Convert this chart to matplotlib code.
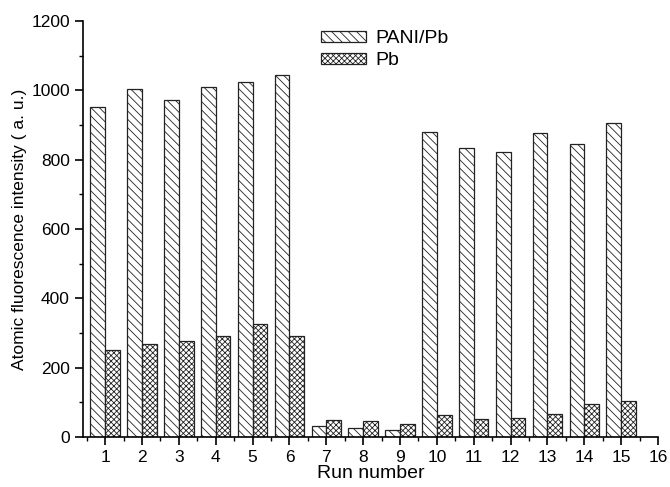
import matplotlib.pyplot as plt
import numpy as np
from matplotlib.ticker import MultipleLocator

plt.rcParams["font.family"] = ["Liberation Sans", "DejaVu Sans"]
plt.rcParams["hatch.linewidth"] = 0.6
plt.rcParams["hatch.color"] = "#555555"

runs = np.arange(1, 16)
pani_pb = [953, 1005, 972, 1008, 1024, 1045, 30, 25, 20, 880, 832, 823, 877, 845, 905]
pb = [250, 268, 277, 292, 325, 290, 48, 47, 38, 63, 52, 55, 65, 95, 103]
labels = ["PANI/Pb", "Pb"]

fig = plt.figure(figsize=(6.7, 4.87), dpi=100)
ax = fig.add_axes([0.124, 0.103, 0.858, 0.854])

w = 0.4
ax.bar(runs - w / 2, pani_pb, width=w, color="white", edgecolor="#222222",
       hatch="\\\\\\\\", lw=0.9, label=labels[0])
ax.bar(runs + w / 2, pb, width=w, color="white", edgecolor="#222222",
       hatch="xxxxxx", lw=0.9, label=labels[1])

ax.set_xlim(0.4, 16)
ax.set_ylim(0, 1200)
ax.xaxis.set_major_locator(MultipleLocator(1))
ax.xaxis.set_minor_locator(MultipleLocator(0.5))
ax.yaxis.set_major_locator(MultipleLocator(200))
ax.yaxis.set_minor_locator(MultipleLocator(100))
ax.spines["top"].set_visible(False)
ax.spines["right"].set_visible(False)
for s in ("left", "bottom"):
    ax.spines[s].set_linewidth(1.2)
ax.tick_params(which="major", direction="out", length=6, width=1.2, labelsize=12.5)
ax.tick_params(which="minor", direction="out", length=3, width=1.0)

ax.set_xlabel("Run number", fontsize=14, labelpad=0)
ax.set_ylabel("Atomic fluorescence intensity ( a. u.)", fontsize=12.5, labelpad=3)

ax.legend(loc="upper left", bbox_to_anchor=(0.39, 1.01), frameon=False, fontsize=14,
          handlelength=2.3, handleheight=0.55, handletextpad=0.5, labelspacing=0.25,
          borderaxespad=0.3)

fig.savefig("out.png", dpi=100)
